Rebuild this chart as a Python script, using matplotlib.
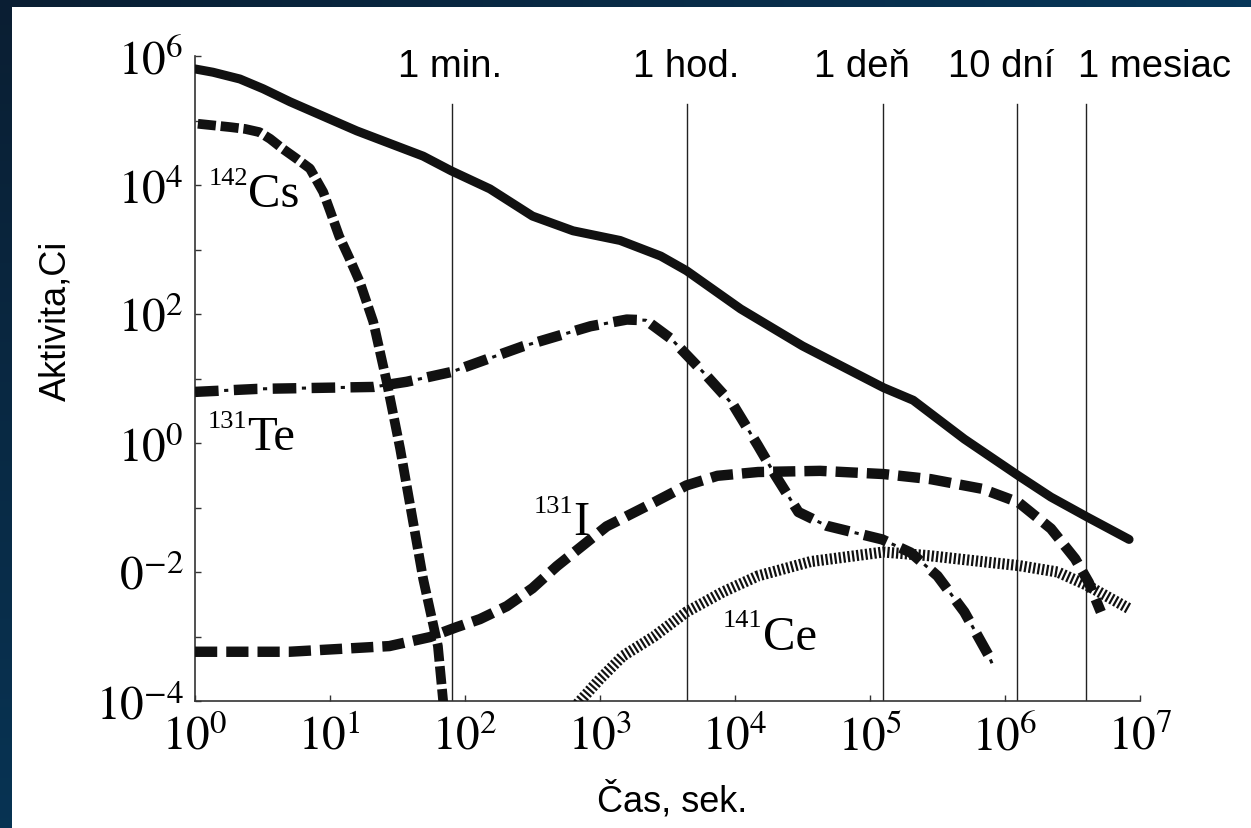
import numpy as np
import matplotlib
matplotlib.use("Agg")
import matplotlib.pyplot as plt
from matplotlib.patches import Rectangle
from matplotlib.transforms import blended_transform_factory

plt.rcParams.update({
    "mathtext.fontset": "stix",
    "font.family": ["Liberation Sans", "DejaVu Sans"],
    "lines.scale_dashes": False,
})

# --- data (time in s, activity in Ci) ---
total_t = [1.0, 1.36, 2.15, 3.2, 5.06, 15.8, 49, 79, 153, 316, 631, 1410, 2820,
           4370, 11000, 31600, 1.26e5, 2.09e5, 5.0e5, 1.26e6, 2.19e6, 4.07e6, 8.3e6]
total_a = [6.3e5, 5.6e5, 4.4e5, 3.1e5, 1.95e5, 6.9e4, 2.8e4, 1.66e4, 8.7e3, 3.3e3,
           1.95e3, 1.38e3, 790, 470, 120, 32, 7.2, 4.6, 1.15, 0.31, 0.145, 0.071, 0.032]

cs_t = [1.05, 1.82, 2.35, 3.0, 3.6, 4.5, 5.6, 7.1, 8.9, 10.0, 11.7, 13.8, 16.6,
        20.9, 26.3, 33.1, 49, 63, 70]
cs_a = [8.9e4, 7.9e4, 7.4e4, 6.6e4, 5.2e4, 3.6e4, 2.6e4, 1.8e4, 7.8e3, 4.0e3,
        1.6e3, 7.6e2, 316, 76, 8.9, 0.81, 7.8e-3, 7.1e-4, 7e-5]

te_t = [1.0, 2.9, 21, 37, 79, 269, 851, 1580, 2190, 3390, 6170, 9770, 14800,
        20000, 29500, 47900, 1.23e5, 2.0e5, 3.16e5, 5.0e5, 7.6e5, 8.3e5]
te_a = [6.2, 6.9, 7.4, 8.9, 12.6, 31.6, 64.6, 82, 80, 40.7, 11, 3.8, 0.91,
        0.31, 0.085, 0.052, 0.032, 0.020, 8.7e-3, 2.4e-3, 5.0e-4, 3.2e-4]

i_t = [1.0, 5.0, 27.5, 55, 87, 129, 204, 316, 479, 1120, 2510, 4370, 7410,
       14800, 42700, 1.26e5, 2.82e5, 6.76e5, 1.26e6, 2.19e6, 3.31e6, 4.17e6, 5.13e6]
i_a = [5.8e-4, 5.8e-4, 7.1e-4, 9.8e-4, 1.4e-3, 1.86e-3, 2.95e-3, 5.6e-3, 0.0123,
       0.051, 0.12, 0.22, 0.31, 0.355, 0.37, 0.33, 0.275, 0.195, 0.12, 0.047,
       0.016, 6.9e-3, 2.4e-3]

ce_t = [680, 1000, 1480, 2510, 4370, 8130, 14800, 36300, 1.26e5, 2.82e5,
        6.76e5, 1.26e6, 2.45e6, 4.07e6, 8.3e6]
ce_a = [9e-5, 2.2e-4, 5.0e-4, 1.0e-3, 2.4e-3, 4.9e-3, 8.7e-3, 0.0145, 0.0204,
        0.0178, 0.0145, 0.0126, 0.01, 6.2e-3, 2.7e-3]

# time markers (vertical lines) and their labels
mark_t = [80, 4400, 1.25e5, 1.23e6, 4.0e6]
mark_labels = ["1 min.", "1 hod.", "1 deň", "10 dní", "1 mesiac"]
mark_label_x = [78, 4350, 8.7e4, 9.3e5, 1.29e7]

# isotope labels: mass number, element, position of the element symbol
iso_sup = ["142", "131", "131", "141"]
iso_el = ["Cs", "Te", "I", "Ce"]
iso_x = [2.48, 2.43, 631, 1.6e4]
iso_y = [4.7e3, 0.81, 0.039, 6.5e-4]

x_decades = [1e0, 1e1, 1e2, 1e3, 1e4, 1e5, 1e6, 1e7]
x_ticklabels = [r"$10^{%d}$" % k for k in range(8)]
y_decades = [10.0 ** k for k in range(-4, 7)]
y_ticklabels = [r"$10^{-4}$", "", r"$0^{-2}$", "", r"$10^{0}$", "",
                r"$10^{2}$", "", r"$10^{4}$", "", r"$10^{6}$"]

W, H = 1251, 829
fig = plt.figure(figsize=(W / 100, H / 100), dpi=100)

# dark gradient frame (top and left edges)
bg = fig.add_axes([0, 0, 1, 1], zorder=-10)
bg.set_axis_off()
gx = np.linspace(0, 1, 60)[None, :]
gy = np.linspace(0, 1, 40)[:, None]
c0 = np.array([0.04, 0.12, 0.20])
c1 = np.array([0.02, 0.28, 0.45])
mix = np.clip(0.6 * gx + 0.5 * gy, 0, 1)[..., None]
bg.imshow(c0 + (c1 - c0) * mix, extent=[0, 1, 0, 1], aspect="auto",
          interpolation="bilinear", origin="upper")
bg.add_patch(Rectangle((12 / W, 0), 1, 1 - 8 / H, transform=bg.transAxes,
                       facecolor="white", edgecolor="none"))
bg.set_xlim(0, 1)
bg.set_ylim(0, 1)

ax = fig.add_axes([195 / W, (H - 702) / H, (1140 - 195) / W, (702 - 57) / H])
ax.set_facecolor("none")
ax.set_xscale("log")
ax.set_yscale("log")
ax.set_xlim(1, 1e7)
ax.set_ylim(1e-4, 1e6)

ink = "#111111"
for t in mark_t:
    ax.axvline(t, ymin=0, ymax=0.926, color="#222222", lw=1.0, zorder=1)

trans = blended_transform_factory(ax.transData, ax.transAxes)
for lbl, x in zip(mark_labels, mark_label_x):
    ax.text(x, 0.985, lbl, transform=trans, ha="center", va="center",
            fontsize=27.5, clip_on=False)

ax.plot(total_t, total_a, color=ink, lw=6.5, solid_capstyle="round",
        solid_joinstyle="round", zorder=5)
ax.plot(cs_t, cs_a, color=ink, lw=7, linestyle=(0, (13, 3.5)),
        dash_capstyle="butt", dash_joinstyle="round", zorder=4)
ax.plot(i_t, i_a, color=ink, lw=7.5, linestyle=(0, (16, 6.5)),
        dash_capstyle="butt", dash_joinstyle="round", zorder=4)
ax.plot(te_t, te_a, color=ink, lw=7.5, linestyle=(0, (17, 11)),
        dash_capstyle="butt", dash_joinstyle="round", zorder=4)
ax.plot(te_t, te_a, color=ink, lw=2.2, linestyle=(7.0, (3, 25)),
        dash_capstyle="butt", zorder=4)
ax.plot(ce_t, ce_a, color=ink, lw=8, linestyle=(0, (1.6, 1.6)),
        dash_capstyle="butt", zorder=4)

for sup, el, x, y in zip(iso_sup, iso_el, iso_x, iso_y):
    ax.text(x, y, el, ha="left", va="baseline", fontsize=35,
            family="Liberation Serif", zorder=6)
    ax.annotate(sup, xy=(x, y), xytext=(0, 16), textcoords="offset points",
                ha="right", va="baseline", fontsize=19,
                family="Liberation Serif", zorder=6)

ax.set_xticks(x_decades)
ax.set_xticklabels(x_ticklabels)
ax.set_yticks(y_decades)
ax.set_yticklabels(y_ticklabels)
ax.minorticks_off()
ax.tick_params(axis="both", direction="in", length=4.5, width=1.0,
               color="#333333", labelsize=34)
ax.tick_params(axis="x", pad=10)
ax.tick_params(axis="y", pad=8)

for side in ("top", "right"):
    ax.spines[side].set_visible(False)
for side in ("left", "bottom"):
    ax.spines[side].set_linewidth(1.2)
    ax.spines[side].set_color("#333333")

fig.text(672 / W, 1 - 812 / H, "Čas, sek.", ha="center", va="baseline", fontsize=26)
fig.text(56 / W, 1 - 321 / H, "Aktivita,Ci", ha="center", va="center",
         rotation=90, fontsize=26)

fig.savefig("out.png", dpi=100)
